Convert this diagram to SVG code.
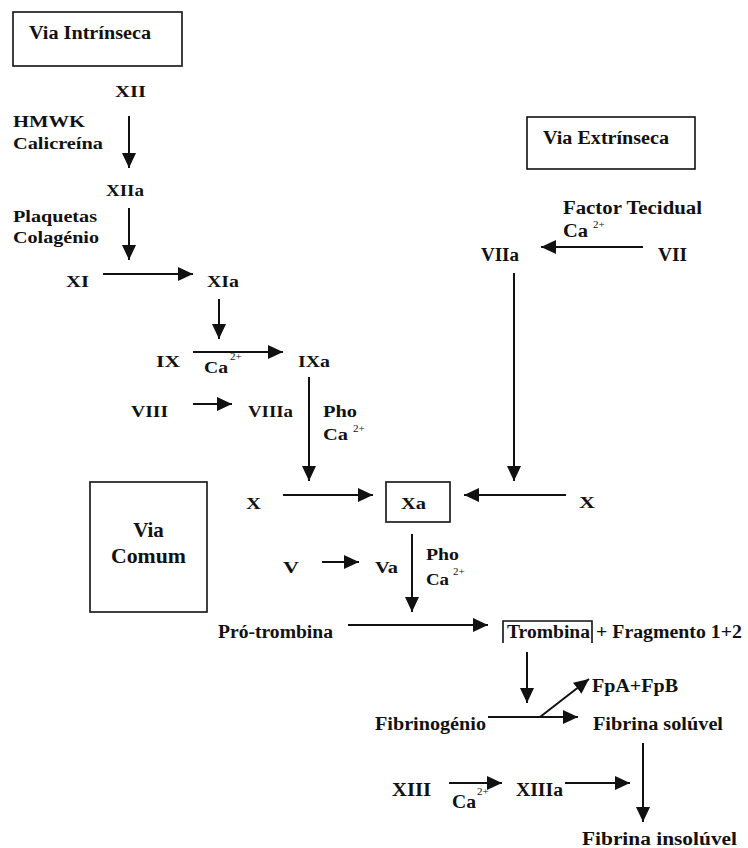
<svg xmlns="http://www.w3.org/2000/svg" width="748" height="848" viewBox="0 0 748 848">
<style>
text{font-weight:bold;fill:#111;}
.s{font-size:16px;}
.m{font-size:17px;}
.l{font-size:18px;}
.sup{font-size:11px;font-weight:normal;}
.box{fill:none;stroke:#111;stroke-width:1.6;}
.c line{stroke:#111;stroke-width:2;fill:none;marker-end:url(#ah);}
</style>
<defs>
<marker id="ah" markerUnits="userSpaceOnUse" markerWidth="15" markerHeight="14" refX="15" refY="7" orient="auto">
<path d="M0,0 L15,7 L0,14 z" fill="#111" stroke="none"/>
</marker>
</defs>
<rect width="748" height="848" fill="#fff"/>
<g font-family="Liberation Serif, Times New Roman, serif">
<g id="via-intrinseca"><rect class="box" x="13" y="12" width="169" height="54"/><text class="l" x="29" y="39" textLength="122" lengthAdjust="spacingAndGlyphs">Via Intrínseca</text></g>
<g id="via-extrinseca"><rect class="box" x="527" y="117" width="168" height="52"/><text class="l" x="543" y="144" textLength="126" lengthAdjust="spacingAndGlyphs">Via Extrínseca</text></g>
<g id="via-comum"><rect class="box" x="90" y="482" width="117" height="130"/><text style="font-size:21px" x="148.5" y="537" text-anchor="middle">Via</text><text style="font-size:21px" x="111" y="563" textLength="75" lengthAdjust="spacingAndGlyphs">Comum</text></g>

<g id="XII"><text class="s" x="115" y="97" textLength="31" lengthAdjust="spacingAndGlyphs">XII</text></g>
<g id="hmwk"><text class="s" x="13" y="127" textLength="72" lengthAdjust="spacingAndGlyphs">HMWK</text><text class="s" x="13" y="149" textLength="90" lengthAdjust="spacingAndGlyphs">Calicreína</text></g>
<g id="XIIa"><text class="s" x="106" y="196" textLength="38" lengthAdjust="spacingAndGlyphs">XIIa</text></g>
<g id="plaquetas"><text class="s" x="13" y="222" textLength="84" lengthAdjust="spacingAndGlyphs">Plaquetas</text><text class="s" x="13" y="243" textLength="86" lengthAdjust="spacingAndGlyphs">Colagénio</text></g>
<g id="XI"><text class="s" x="66" y="287" textLength="23" lengthAdjust="spacingAndGlyphs">XI</text></g>
<g id="XIa"><text class="s" x="207" y="287" textLength="32" lengthAdjust="spacingAndGlyphs">XIa</text></g>
<g id="IX"><text class="s" x="156" y="367" textLength="24" lengthAdjust="spacingAndGlyphs">IX</text></g>
<g id="ca-ix"><text class="s" x="204" y="373" textLength="24" lengthAdjust="spacingAndGlyphs">Ca</text><text class="sup" x="230" y="360">2+</text></g>
<g id="IXa"><text class="s" x="298" y="367" textLength="32" lengthAdjust="spacingAndGlyphs">IXa</text></g>
<g id="VIII"><text class="s" x="131" y="417" textLength="37" lengthAdjust="spacingAndGlyphs">VIII</text></g>
<g id="VIIIa"><text class="s" x="248" y="417" textLength="45" lengthAdjust="spacingAndGlyphs">VIIIa</text></g>
<g id="pho-ca-1"><text class="s" x="323" y="417" textLength="34" lengthAdjust="spacingAndGlyphs">Pho</text><text class="s" x="323" y="440" textLength="25" lengthAdjust="spacingAndGlyphs">Ca</text><text class="sup" x="353" y="432">2+</text></g>

<g id="factor-tecidual"><text class="l" x="563" y="214" textLength="139" lengthAdjust="spacingAndGlyphs">Factor Tecidual</text><text class="l" x="563" y="237" textLength="25" lengthAdjust="spacingAndGlyphs">Ca</text><text class="sup" x="593" y="228">2+</text></g>
<g id="VIIa"><text class="l" x="481" y="261" textLength="38" lengthAdjust="spacingAndGlyphs">VIIa</text></g>
<g id="VII"><text class="l" x="658" y="261" textLength="29" lengthAdjust="spacingAndGlyphs">VII</text></g>

<g id="X-left"><text class="m" x="246" y="509" textLength="15" lengthAdjust="spacingAndGlyphs">X</text></g>
<g id="Xa"><rect class="box" x="386" y="482" width="64" height="40"/><text class="m" x="401" y="509" textLength="25" lengthAdjust="spacingAndGlyphs">Xa</text></g>
<g id="X-right"><text class="m" x="579" y="508" textLength="16" lengthAdjust="spacingAndGlyphs">X</text></g>
<g id="V"><text class="m" x="283" y="573" textLength="16" lengthAdjust="spacingAndGlyphs">V</text></g>
<g id="Va"><text class="m" x="375" y="573" textLength="23" lengthAdjust="spacingAndGlyphs">Va</text></g>
<g id="pho-ca-2"><text class="m" x="426" y="560" textLength="33" lengthAdjust="spacingAndGlyphs">Pho</text><text class="m" x="426" y="585" textLength="23" lengthAdjust="spacingAndGlyphs">Ca</text><text class="sup" x="453" y="575">2+</text></g>

<g id="protrombina"><text class="l" x="218" y="638" textLength="115" lengthAdjust="spacingAndGlyphs">Pró-trombina</text></g>
<g id="trombina"><path class="box" d="M503,643 V621 H592 V643"/><text class="l" x="507" y="638" textLength="83" lengthAdjust="spacingAndGlyphs">Trombina</text><text class="l" x="596" y="638" textLength="146" lengthAdjust="spacingAndGlyphs">+ Fragmento 1+2</text></g>
<g id="fpa-fpb"><text class="l" x="592" y="692" textLength="86" lengthAdjust="spacingAndGlyphs">FpA+FpB</text></g>
<g id="fibrinogenio"><text class="l" x="375" y="730" textLength="111" lengthAdjust="spacingAndGlyphs">Fibrinogénio</text></g>
<g id="fibrina-soluvel"><text class="l" x="593" y="730" textLength="130" lengthAdjust="spacingAndGlyphs">Fibrina solúvel</text></g>
<g id="XIII"><text class="l" x="392" y="796" textLength="39" lengthAdjust="spacingAndGlyphs">XIII</text></g>
<g id="ca-xiii"><text class="l" x="452" y="808" textLength="24" lengthAdjust="spacingAndGlyphs">Ca</text><text class="sup" x="477" y="795">2+</text></g>
<g id="XIIIa"><text class="l" x="516" y="796" textLength="47" lengthAdjust="spacingAndGlyphs">XIIIa</text></g>
<g id="fibrina-insoluvel"><text class="l" x="582" y="845" textLength="155" lengthAdjust="spacingAndGlyphs">Fibrina insolúvel</text></g>
</g>
<g id="connectors" class="c">
<line x1="129" y1="116" x2="129" y2="168"/>
<line x1="129" y1="208" x2="129" y2="260"/>
<line x1="103" y1="274" x2="193" y2="274"/>
<line x1="219" y1="299" x2="219" y2="339"/>
<line x1="193" y1="352" x2="283" y2="352"/>
<line x1="193" y1="404" x2="232" y2="404"/>
<line x1="309" y1="377" x2="309" y2="481"/>
<line x1="283" y1="495" x2="373" y2="495"/>
<line x1="566" y1="495" x2="464" y2="495"/>
<line x1="643" y1="247" x2="541" y2="247"/>
<line x1="514" y1="273" x2="514" y2="481"/>
<line x1="322" y1="562" x2="359" y2="562"/>
<line x1="412" y1="534" x2="412" y2="612"/>
<line x1="348" y1="625" x2="488" y2="625"/>
<line x1="527" y1="652" x2="527" y2="703"/>
<line x1="488" y1="717" x2="578" y2="717"/>
<line x1="540" y1="717" x2="589" y2="679"/>
<line x1="643" y1="743" x2="643" y2="822"/>
<line x1="449" y1="783" x2="502" y2="783"/>
<line x1="565" y1="783" x2="630" y2="783"/>
</g>
</svg>
